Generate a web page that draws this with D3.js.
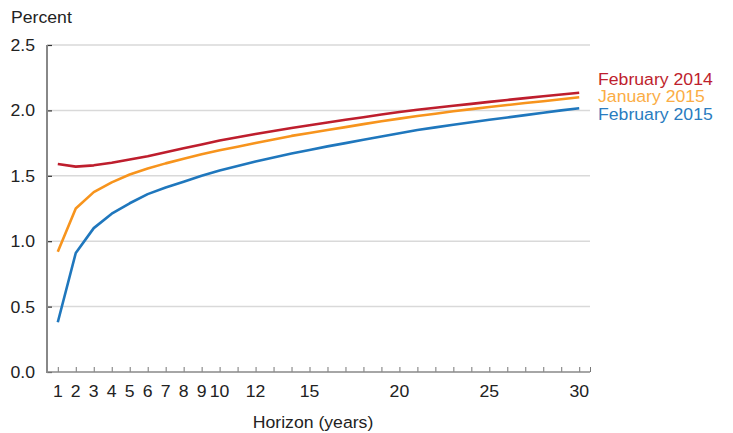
<!DOCTYPE html>
<html><head><meta charset="utf-8">
<script src="https://cdn.jsdelivr.net/npm/d3@7"></script>
<style>
body{margin:0;background:#fff;}
text{font-family:"Liberation Sans",Arial,sans-serif;}
</style></head>
<body><svg id="c" width="733" height="433"></svg>
<script>
const years = d3.range(1, 31);
const feb2014 = [1.59,1.57,1.58,1.60,1.625,1.65,1.68,1.71,1.74,1.77,1.795,1.82,1.842,1.865,1.886,1.907,1.928,1.948,1.968,1.988,2.005,2.02,2.035,2.05,2.065,2.08,2.094,2.108,2.122,2.135];
const jan2015 = [0.92,1.25,1.375,1.45,1.51,1.555,1.595,1.63,1.665,1.695,1.722,1.75,1.778,1.805,1.827,1.85,1.872,1.895,1.917,1.937,1.957,1.975,1.993,2.01,2.026,2.041,2.056,2.07,2.085,2.10];
const feb2015 = [0.38,0.91,1.10,1.21,1.29,1.36,1.41,1.455,1.50,1.54,1.575,1.61,1.64,1.67,1.697,1.725,1.75,1.775,1.80,1.825,1.85,1.87,1.89,1.91,1.928,1.946,1.964,1.982,2.0,2.016];
const seriesNames = ["February 2014","January 2015","February 2015"];
const seriesColors = ["#be1e2d","#f7941d","#1f77bd"];
const labelColors = ["#be1e2d","#fbad45","#2a7cc0"];
const xTickLabels = [1,2,3,4,5,6,7,8,9,10,12,15,20,25,30];
const yTicks = [0,0.5,1.0,1.5,2.0,2.5];

const svg = d3.select("#c");
const x = d3.scaleLinear().domain([0.4,30.6]).range([47,590]);
const y = d3.scaleLinear().domain([0,2.5]).range([372,45]);
const fs = "16.5px";
const sx = 1.07;
function txt(g, px, py, anchor, color, s){
  return g.append("text").attr("transform",`translate(${px},${py}) scale(${sx},1)`)
    .attr("text-anchor",anchor).attr("font-size",fs).attr("fill",color).text(s);
}

// gridlines
svg.append("g").selectAll("line").data(yTicks.filter(d=>d>0)).join("line")
  .attr("x1",47).attr("x2",590).attr("y1",d=>y(d)).attr("y2",d=>y(d))
  .attr("stroke","#d9d9d9").attr("stroke-width",1.5);

// y axis
const ya = svg.append("g").attr("transform","translate(47,0)")
  .call(d3.axisRight(y).tickValues(yTicks).tickSize(5).tickFormat(""));
ya.select(".domain").remove();
ya.selectAll(".tick line").attr("stroke","#333").attr("stroke-width",1.2);
svg.append("line").attr("x1",47).attr("x2",47).attr("y1",y(2.5)).attr("y2",y(0)+1)
  .attr("stroke","#888").attr("stroke-width",2);
const yl = svg.append("g");
yTicks.forEach(d=>txt(yl, 35, y(d)+6, "end", "#222", d.toFixed(1)));

// x axis
const xa = svg.append("g").attr("transform","translate(0,372)")
  .call(d3.axisTop(x).tickValues(years.concat([30.6])).tickSize(5).tickFormat(""));
xa.select(".domain").remove();
xa.selectAll(".tick line").attr("stroke","#777").attr("stroke-width",1);
svg.append("line").attr("x1",46).attr("x2",590).attr("y1",372).attr("y2",372)
  .attr("stroke","#888").attr("stroke-width",1.5);
const xl = svg.append("g");
xTickLabels.forEach(d=>txt(xl, x(d), 397, "middle", "#222", d));

txt(svg, 313, 428, "middle", "#222", "Horizon (years)");
txt(svg, 11, 23, "start", "#222", "Percent");

// lines
const data = [feb2014, jan2015, feb2015];
const line = d3.line().x((d,i)=>x(years[i])).y(d=>y(d));
[2,1,0].forEach(k=>{
  svg.append("path").datum(data[k]).attr("d",line).attr("fill","none")
    .attr("stroke",seriesColors[k]).attr("stroke-width",2.6).attr("stroke-linejoin","round");
});

// labels
const labelY = [84.5,102,120];
const lg = svg.append("g");
seriesNames.forEach((d,i)=>txt(lg, 598, labelY[i], "start", labelColors[i], d));
</script></body></html>
